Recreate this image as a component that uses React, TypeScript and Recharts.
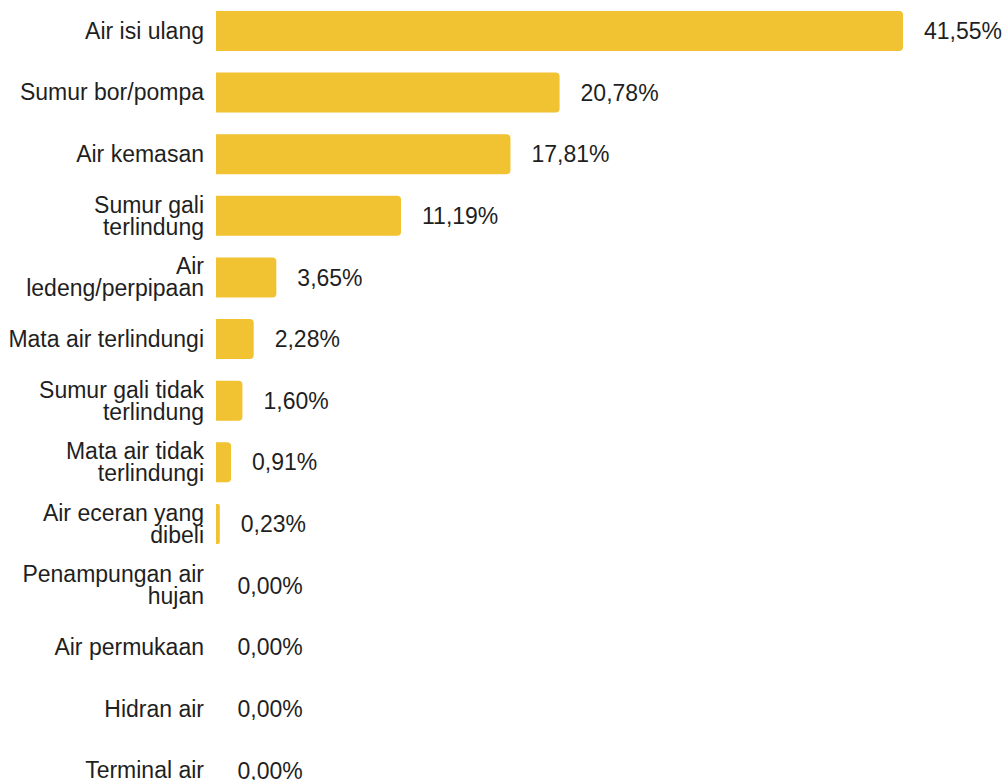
import React from 'react';
import { BarChart, Bar, XAxis, YAxis, LabelList, Rectangle } from 'recharts';

// Google Sheets style yellow + ink
const BAR = '#F1C232';
const INK = '#1f1f1f';
const FONT = '"Liberation Sans", Arial, sans-serif';
const FS = 23;

// category labels, "\n" marks where the original wraps
const categories = [
  'Air isi ulang',
  'Sumur bor/pompa',
  'Air kemasan',
  'Sumur gali\nterlindung',
  'Air\nledeng/perpipaan',
  'Mata air terlindungi',
  'Sumur gali tidak\nterlindung',
  'Mata air tidak\nterlindungi',
  'Air eceran yang\ndibeli',
  'Penampungan air\nhujan',
  'Air permukaan',
  'Hidran air',
  'Terminal air',
];

const shares = [41.55, 20.78, 17.81, 11.19, 3.65, 2.28, 1.6, 0.91, 0.23, 0, 0, 0, 0];

const data = categories.map((name, i) => ({ name, value: shares[i] }));

const fmt = (v: number) => `${v.toFixed(2).replace('.', ',')}%`;

function CategoryTick(props: any) {
  const { x, y, payload } = props;
  const lines = String(payload.value).split('\n');
  const lh = 22;
  const start = -((lines.length - 1) * lh) / 2;
  return (
    <text x={x} y={y} textAnchor="end" fill={INK} fontSize={FS} fontFamily={FONT}>
      {lines.map((l, i) => (
        <tspan key={i} x={x} dy={i === 0 ? start : lh} dominantBaseline="central">
          {l}
        </tspan>
      ))}
    </text>
  );
}

// zero values still need a label, so they get a hairline slot but draw nothing
function BarShape(props: any) {
  if (!props.value) return null;
  return <Rectangle {...props} />;
}

export default function App() {
  return (
    <div style={{ position: 'absolute', left: 0, top: 0, width: 1005, height: 780, overflow: 'hidden', background: '#fff' }}>
      <BarChart
        width={1005}
        height={801}
        data={data}
        layout="vertical"
        margin={{ top: 0, right: 102, bottom: 0, left: 0 }}
      >
        <XAxis type="number" hide domain={[0, 'dataMax']} />
        <YAxis
          type="category"
          dataKey="name"
          width={216}
          axisLine={false}
          tickLine={false}
          tickSize={0}
          tickMargin={12}
          interval={0}
          tick={<CategoryTick />}
        />
        <Bar
          dataKey="value"
          fill={BAR}
          barSize={40}
          radius={[0, 4, 4, 0]}
          minPointSize={0.5}
          shape={<BarShape />}
          isAnimationActive={false}
        >
          <LabelList
            dataKey="value"
            position="right"
            offset={21}
            formatter={(v: any) => fmt(Number(v))}
            style={{ fill: INK, fontSize: FS, fontFamily: FONT }}
          />
        </Bar>
      </BarChart>
    </div>
  );
}
